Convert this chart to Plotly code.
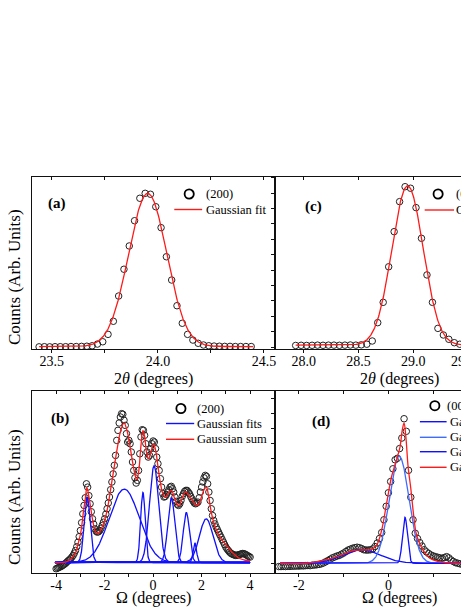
import numpy as np
import plotly.graph_objects as go

# The page body has an 8 px margin, so the figure starts at (8, 8) in the window.
OFF = 8
W, H = 469 - OFF, 607 - OFF
FONT = "Liberation Serif"

# ---------------- data ----------------
# (a) 2theta scan, (200) reflection
a_two_theta = np.round(np.arange(23.44, 24.4401, 0.025), 3)
a_counts = [0.001, 0.002, 0.001, 0.002, 0.002, 0.002, 0.003, 0.003, 0.004, 0.005,
            0.008, 0.019, 0.034, 0.082, 0.167, 0.331, 0.505, 0.656, 0.820, 0.966,
            0.998, 0.992, 0.911, 0.775, 0.586, 0.435, 0.268, 0.154, 0.082, 0.045,
            0.024, 0.013, 0.008, 0.006, 0.005, 0.004, 0.004, 0.003, 0.003, 0.003, 0.003]
a_fit = dict(center=23.952, sigma=0.09, amp=0.995, offset=0.003)

# (c) 2theta scan, (002) reflection
c_two_theta = np.round(np.arange(27.925, 29.4751, 0.05), 3)
c_counts = [0.010, 0.011, 0.010, 0.011, 0.012, 0.011, 0.012, 0.012, 0.011, 0.012,
            0.013, 0.012, 0.014, 0.018, 0.039, 0.158, 0.290, 0.521, 0.749, 0.944,
            1.041, 1.031, 0.905, 0.706, 0.468, 0.290, 0.121, 0.078, 0.050, 0.028,
            0.018, 0.013]
c_fit = dict(center=28.948, sigma=0.143, amp=1.035, offset=0.012)

# (b) rocking curve (200)
b_omega = np.round(np.arange(-4.0, 4.0001, 0.05), 2)
b_counts = [
    -0.042, -0.038, -0.034, -0.030, -0.027, -0.022, -0.016, -0.010, -0.004, 0.004,
    0.012, 0.018, 0.026, 0.036, 0.047, 0.062, 0.080, 0.105, 0.135, 0.172,
    0.213, 0.265, 0.324, 0.380, 0.431, 0.524, 0.502, 0.445, 0.391, 0.338,
    0.291, 0.255, 0.224, 0.208, 0.202, 0.205, 0.213, 0.228, 0.247, 0.268,
    0.291, 0.322, 0.358, 0.396, 0.436, 0.485, 0.536, 0.590, 0.647, 0.713,
    0.813, 0.880, 0.929, 0.969, 0.991, 0.987, 0.947, 0.913, 0.858, 0.802,
    0.813, 0.791, 0.736, 0.669, 0.613, 0.564, 0.529, 0.547, 0.613, 0.724,
    0.836, 0.884, 0.880, 0.847, 0.791, 0.736, 0.702, 0.713, 0.758, 0.791,
    0.809, 0.802, 0.758, 0.702, 0.658, 0.613, 0.558, 0.502, 0.458, 0.436,
    0.440, 0.453, 0.469, 0.484, 0.502, 0.507, 0.491, 0.469, 0.436, 0.407,
    0.387, 0.380, 0.391, 0.413, 0.440, 0.458, 0.473, 0.480, 0.480, 0.469,
    0.458, 0.440, 0.424, 0.409, 0.396, 0.391, 0.396, 0.402, 0.431, 0.469,
    0.502, 0.536, 0.564, 0.580, 0.573, 0.524, 0.469, 0.413, 0.358, 0.313,
    0.280, 0.257, 0.236, 0.219, 0.202, 0.185, 0.169, 0.152, 0.136, 0.119,
    0.102, 0.090, 0.080, 0.070, 0.062, 0.057, 0.053, 0.050, 0.047, 0.048,
    0.050, 0.052, 0.055, 0.058, 0.060, 0.058, 0.055, 0.050, 0.045, 0.040,
    0.036]
b_fit_centers = [-2.72, -1.19, -0.42, 0.04, 0.75, 1.37, 1.72, 2.19]
b_fit_sigmas = [0.125, 0.62, 0.095, 0.19, 0.145, 0.128, 0.07, 0.28]
b_fit_amps = [0.433, 0.489, 0.467, 0.644, 0.431, 0.333, 0.131, 0.291]
b_sum_omega = [-4.05, -3.7, -3.5, -3.35, -3.2, -3.1, -2.97, -2.88, -2.8, -2.73,
               -2.65, -2.57, -2.47, -2.38, -2.28, -2.15, -2.0, -1.87, -1.75, -1.6,
               -1.48, -1.35, -1.2, -1.08, -0.99, -0.88, -0.78, -0.68, -0.6, -0.5,
               -0.42, -0.35, -0.28, -0.19, -0.1, 0.02, 0.1, 0.2, 0.3, 0.4,
               0.51, 0.62, 0.75, 0.88, 1.0, 1.08, 1.2, 1.34, 1.5, 1.65,
               1.78, 1.87, 2.0, 2.12, 2.2, 2.28, 2.36, 2.46, 2.56, 2.75,
               2.97, 3.2, 3.38, 3.6, 3.8, 4.0]
b_sum_counts = [0.0, 0.0, 0.01, 0.03, 0.065, 0.12, 0.213, 0.33, 0.42, 0.50,
                0.44, 0.36, 0.26, 0.204, 0.19, 0.22, 0.28, 0.37, 0.49, 0.64,
                0.76, 0.87, 0.93, 0.88, 0.81, 0.70, 0.61, 0.55, 0.60, 0.78,
                0.88, 0.84, 0.74, 0.69, 0.73, 0.79, 0.75, 0.64, 0.53, 0.46,
                0.436, 0.46, 0.48, 0.43, 0.385, 0.38, 0.43, 0.47, 0.44, 0.405,
                0.38, 0.385, 0.44, 0.49, 0.50, 0.45, 0.37, 0.29, 0.236, 0.17,
                0.124, 0.08, 0.049, 0.025, 0.015, 0.012]

# (d) rocking curve (002)
d_omega = np.round(np.arange(-2.45, 1.7501, 0.05), 2)
d_counts = [
    -0.022, -0.022, -0.021, -0.022, -0.020, -0.021, -0.019, -0.020, -0.018, -0.019,
    -0.017, -0.018, -0.016, -0.015, -0.016, -0.013, -0.012, -0.010, -0.008, -0.004,
    0.002, 0.010, 0.018, 0.027, 0.036, 0.042, 0.048, 0.052, 0.060, 0.068,
    0.078, 0.088, 0.094, 0.100, 0.104, 0.107, 0.104, 0.098, 0.090, 0.088,
    0.088, 0.090, 0.096, 0.111, 0.135, 0.165, 0.205, 0.290, 0.380, 0.470,
    0.545, 0.630, 0.690, 0.700, 0.765, 0.835, 0.964, 0.880, 0.620, 0.440,
    0.290, 0.200, 0.165, 0.138, 0.115, 0.090, 0.076, 0.065, 0.055, 0.049,
    0.044, 0.040, 0.036, 0.033, 0.038, 0.044, 0.036, 0.022, 0.012, 0.004,
    0.000, -0.004, -0.007, -0.010, -0.011]
d_fit_centers = [-0.6, 0.24, 0.37]
d_fit_sigmas = [0.42, 0.22, 0.055]
d_fit_amps = [0.09, 0.715, 0.307]
d_sum_omega = [-2.42, -1.85, -1.6, -1.33, -1.04, -0.81, -0.59, -0.37, -0.26, -0.15,
               -0.04, 0.07, 0.18, 0.26, 0.31, 0.35, 0.39, 0.44, 0.50, 0.56,
               0.62, 0.70, 0.78, 0.93, 1.18, 1.5, 1.8]
d_sum_counts = [0.0, 0.0, 0.01, 0.027, 0.055, 0.082, 0.089, 0.093, 0.122, 0.222,
                0.40, 0.577, 0.689, 0.777, 0.889, 0.937, 0.844, 0.644, 0.50, 0.33,
                0.20, 0.13, 0.085, 0.033, 0.007, 0.0, 0.0]

# ---------------- helpers ----------------
def gauss(x, c, s, a):
    return a * np.exp(-(x - c) ** 2 / (2 * s ** 2))

def px(x):
    """window pixel x -> paper fraction"""
    return (x - OFF) / W

def py(y):
    """window pixel y -> paper fraction"""
    return 1 - (y - OFF) / H

RED = "#ff1a1a"
BLUE = "#1010ff"
BLUE2 = "#3f6bff"

fig = go.Figure()

def circles(x, y, xa, ya):
    fig.add_trace(go.Scatter(x=x, y=y, xaxis=xa, yaxis=ya, mode="markers",
                             marker=dict(symbol="circle-open", size=6.5, color="#222222",
                                         line=dict(width=1)),
                             showlegend=False, hoverinfo="skip"))

def line(x, y, xa, ya, color, shape="linear", width=1.3):
    fig.add_trace(go.Scatter(x=x, y=y, xaxis=xa, yaxis=ya, mode="lines",
                             line=dict(color=color, width=width, shape=shape),
                             showlegend=False, hoverinfo="skip"))

# (a)
circles(a_two_theta, a_counts, "x", "y")
ga = np.linspace(23.44, 24.45, 500)
line(ga, a_fit["offset"] + gauss(ga, a_fit["center"], a_fit["sigma"], a_fit["amp"]), "x", "y", RED)

# (c)
circles(c_two_theta, c_counts, "x2", "y2")
gc = np.linspace(27.925, 29.5, 500)
line(gc, c_fit["offset"] + gauss(gc, c_fit["center"], c_fit["sigma"], c_fit["amp"]), "x2", "y2", RED)

# (b)
circles(b_omega, b_counts, "x3", "y3")
gb = np.linspace(-4.05, 4.0, 800)
for c, s, a in zip(b_fit_centers, b_fit_sigmas, b_fit_amps):
    line(gb, gauss(gb, c, s, a), "x3", "y3", BLUE)
line(b_sum_omega, b_sum_counts, "x3", "y3", RED, shape="spline")

# (d)
circles(d_omega, d_counts, "x4", "y4")
gd = np.linspace(-2.42, 1.8, 800)
for i, (c, s, a) in enumerate(zip(d_fit_centers, d_fit_sigmas, d_fit_amps)):
    line(gd, gauss(gd, c, s, a), "x4", "y4", BLUE2 if i == 1 else BLUE)
line(d_sum_omega, d_sum_counts, "x4", "y4", RED, shape="spline")

# dummy traces so that top (mirror) axes render
for xa, ya in (("x5", "y"), ("x6", "y2"), ("x7", "y3"), ("x8", "y4")):
    fig.add_trace(go.Scatter(x=[None], y=[None], xaxis=xa, yaxis=ya, showlegend=False,
                             hoverinfo="skip"))

# ---------------- axes ----------------
tickfont = dict(family=FONT, size=14, color="black")
LEFT, MID_L, MID_R = 32, 275.5, 276.7
TOP1, BOT1, TOP2, BOT2 = 177, 349, 391, 572.7

panels = {
    "a": dict(xd=[px(LEFT), px(MID_L)], yd=[py(BOT1), py(TOP1)],
              xr=[23.406, 24.549], yr=[-0.013, 1.104],
              tv=[23.5, 23.75, 24.0, 24.25, 24.5], tt=["23.5", "", "24.0", "", "24.5"]),
    "c": dict(xd=[px(MID_R), 1.0], yd=[py(BOT1), py(TOP1)],
              xr=[27.741, 29.491], yr=[-0.013, 1.104],
              tv=[28.0, 28.5, 29.0], tt=["28.0", "28.5", "29.0"]),
    "b": dict(xd=[px(LEFT), px(MID_L)], yd=[py(BOT2), py(TOP2)],
              xr=[-5, 5], yr=[-0.068, 1.142],
              tv=list(range(-4, 5)), tt=["-4", "", "-2", "", "0", "", "2", "", "4"]),
    "d": dict(xd=[px(MID_R), 1.0], yd=[py(BOT2), py(TOP2)],
              xr=[-2.522, 1.756], yr=[-0.063, 1.149],
              tv=[-2, -1, 0, 1], tt=["-2", "", "0", ""]),
}
order = ["a", "c", "b", "d"]
layout = {}
for i, k in enumerate(order):
    p = panels[k]
    n = i + 1
    xs = "" if n == 1 else str(n)
    ys = "" if n == 1 else str(n)
    right_panel = k in ("c", "d")
    layout["xaxis" + xs] = dict(domain=p["xd"], range=p["xr"], anchor="y" + ys,
                                showline=True, linecolor="#111", linewidth=1.2,
                                ticks="outside", ticklen=3, tickwidth=1, tickcolor="#111",
                                tickvals=p["tv"], ticktext=p["tt"], tickfont=tickfont,
                                ticklabelstandoff=-4,
                                showgrid=False, zeroline=False, mirror=False, fixedrange=True)
    layout["xaxis" + str(n + 4)] = dict(domain=p["xd"], range=p["xr"], anchor="y" + ys,
                                        overlaying="x" + xs, side="top",
                                        showline=True, linecolor="#111", linewidth=1.2,
                                        ticks="inside", ticklen=3, tickwidth=1, tickcolor="#111",
                                        tickvals=p["tv"], showticklabels=False,
                                        showgrid=False, zeroline=False, fixedrange=True)
    layout["yaxis" + ys] = dict(domain=p["yd"], range=p["yr"], anchor="x" + xs,
                                showline=True, linecolor="#111", linewidth=1.2,
                                mirror=not right_panel,
                                ticks="outside" if right_panel else "", ticklen=3,
                                tickwidth=1, tickcolor="#111", tick0=0, dtick=0.1,
                                showticklabels=False, showgrid=False, zeroline=False,
                                fixedrange=True)

# ---------------- annotations / legends ----------------
ann = []
shapes = []
PAD = 2  # annotation inner padding compensation

def text(x, y, s, size=12.5, xanchor="left", bold=False, angle=0):
    if xanchor == "left":
        x -= PAD
    ann.append(dict(x=px(x), y=py(y), xref="paper", yref="paper", text=s, showarrow=False,
                    xanchor=xanchor, yanchor="middle", textangle=angle,
                    font=dict(family=FONT, size=size, color="black",
                              weight="bold" if bold else "normal")))

def leg_circle(x, y):
    shapes.append(dict(type="circle", xref="paper", yref="paper", xsizemode="pixel",
                       ysizemode="pixel", xanchor=px(x), yanchor=py(y),
                       x0=-4.6, x1=4.6, y0=-4.6, y1=4.6,
                       line=dict(color="black", width=1.8)))

def leg_line(x0, x1, y, color):
    shapes.append(dict(type="line", xref="paper", yref="paper", x0=px(x0), x1=px(x1),
                       y0=py(y), y1=py(y), line=dict(color=color, width=1.4)))

# panel labels
text(57.5, 203, "(a)", size=15, xanchor="center", bold=True)
text(315, 206, "(c)", size=15, xanchor="center", bold=True)
text(60.5, 418.5, "(b)", size=15, xanchor="center", bold=True)
text(322, 421.7, "(d)", size=15, xanchor="center", bold=True)

# legend (a)
leg_circle(190, 194)
text(207, 194, "(200)")
leg_line(175, 203, 209.5, RED)
text(207, 209.5, "Gaussian fit")
# legend (c)
leg_circle(440, 194)
text(458, 194, "(002)")
leg_line(426.5, 456, 210, RED)
text(458, 210, "Gaussian fit")
# legend (b)
leg_circle(181.7, 408.5)
text(197.5, 408.5, "(200)")
leg_line(166.7, 195, 423.5, BLUE)
text(197.7, 423.5, "Gaussian fits")
leg_line(166.7, 195, 439.3, RED)
text(197.7, 439.3, "Gaussian sum")
# legend (d)
leg_circle(436.7, 405.7)
text(449.3, 405.7, "(002)")
for yy, col, lab in ((421.7, BLUE, "Gaussian fit 1"), (437.3, BLUE2, "Gaussian fit 2"),
                     (451.7, BLUE, "Gaussian fit 3"), (467.3, RED, "Gaussian sum")):
    leg_line(421.7, 448.5, yy, col)
    text(452, yy, lab)

# axis titles
theta_title = "2<i>\u03b8</i> (degrees)"
omega_title = "\u03a9 (degrees)"
text(154, 379, theta_title, size=16, xanchor="center")
text(401, 379, theta_title, size=16, xanchor="center")
text(154, 598, omega_title, size=16, xanchor="center")
text(401, 598, omega_title, size=16, xanchor="center")
text(14, 277, "Counts (Arb. Units)", size=17, xanchor="center", angle=-90)
text(14, 497, "Counts (Arb. Units)", size=17, xanchor="center", angle=-90)
# partially visible tick label at the right edge of (c)
text(465.5, 361, "29.5", size=14, xanchor="center")

fig.update_layout(width=W, height=H, margin=dict(l=0, r=0, t=0, b=0),
                  paper_bgcolor="white", plot_bgcolor="white", showlegend=False,
                  annotations=ann, shapes=shapes, **layout)

fig.write_html("out.html")
